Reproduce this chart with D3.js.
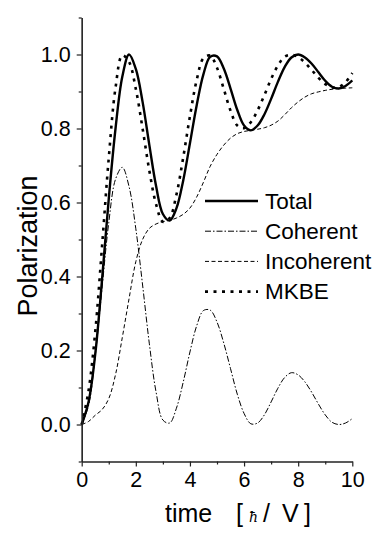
<!DOCTYPE html>
<html>
<head>
<meta charset="utf-8">
<script src="https://cdn.jsdelivr.net/npm/d3@7"></script>
<style>
  body { margin: 0; background: #fff; }
  text { font-family: "Liberation Sans", Arial, sans-serif; fill: #000; }
</style>
</head>
<body>
<div id="vis"></div>
<script>
// time axis (hbar / V), one point every 0.25
const times = d3.range(41).map(i => i * 0.25);

const total = [0, 0.06, 0.19, 0.39, 0.61, 0.80, 0.94, 1.0, 0.961, 0.872, 0.755, 0.644, 0.569, 0.551,
  0.584, 0.659, 0.760, 0.863, 0.947, 0.994, 0.995, 0.962, 0.908, 0.850, 0.808, 0.795,
  0.808, 0.838, 0.880, 0.926, 0.966, 0.992, 1.0, 0.992, 0.975, 0.952, 0.929, 0.913, 0.908, 0.915, 0.93];

const coherent = [0, 0.050, 0.185, 0.367, 0.545, 0.663, 0.695, 0.643, 0.529, 0.377, 0.218, 0.087, 0.012, 0.004,
  0.044, 0.114, 0.196, 0.267, 0.308, 0.309, 0.277, 0.220, 0.151, 0.082, 0.030, 0.002,
  0.004, 0.026, 0.061, 0.098, 0.127, 0.140, 0.134, 0.115, 0.087, 0.055, 0.026, 0.006, 0.0, 0.004, 0.016];

const incoherent = [0, 0.008, 0.025, 0.04, 0.07, 0.135, 0.235, 0.34, 0.44, 0.50, 0.53, 0.542, 0.548, 0.552,
  0.558, 0.568, 0.585, 0.615, 0.655, 0.698, 0.73, 0.755, 0.774, 0.786, 0.792, 0.795,
  0.798, 0.802, 0.809, 0.82, 0.837, 0.856, 0.872, 0.885, 0.894, 0.899, 0.903, 0.906, 0.908, 0.909, 0.91];

const mkbe = [0, 0.09, 0.25, 0.48, 0.72, 0.91, 0.998, 0.98, 0.907, 0.80, 0.686, 0.595, 0.548, 0.558,
  0.621, 0.721, 0.833, 0.931, 0.990, 0.997, 0.964, 0.907, 0.848, 0.808, 0.801, 0.817,
  0.849, 0.890, 0.934, 0.970, 0.994, 0.999, 0.993, 0.978, 0.958, 0.937, 0.920, 0.911, 0.912, 0.925, 0.95];

const seriesNames = ["Total", "Coherent", "Incoherent", "MKBE"];
const xTicks = [0, 2, 4, 6, 8, 10];
const yTicks = [0.0, 0.2, 0.4, 0.6, 0.8, 1.0];

const W = 382, H = 540;
const svg = d3.select("#vis").append("svg")
  .attr("width", W).attr("height", H);

const x = d3.scaleLinear().domain([0, 10]).range([81.7, 352.3]);
const y = d3.scaleLinear().domain([-0.1, 1.1]).range([461.5, 17.5]);

const styles = {
  Total:      { width: 2.4, dash: null },
  Coherent:   { width: 1, dash: "6,2,1.5,2" },
  Incoherent: { width: 1, dash: "4,2.5" },
  MKBE:       { width: 2.6, dash: "3,5.5" }
};
const dataBy = { Total: total, Coherent: coherent, Incoherent: incoherent, MKBE: mkbe };

const line = d3.line()
  .x(d => x(d[0]))
  .y(d => y(d[1]))
  .curve(d3.curveCatmullRom.alpha(0.5));

// curves
seriesNames.forEach(name => {
  svg.append("path")
    .datum(times.map((t, i) => [t, dataBy[name][i]]))
    .attr("fill", "none")
    .attr("stroke", "#000")
    .attr("stroke-width", styles[name].width)
    .attr("stroke-dasharray", styles[name].dash)
    .attr("d", line);
});

// y axis with minor ticks
const yAxis = svg.append("g").attr("transform", `translate(${x(0)},0)`);
yAxis.call(d3.axisLeft(y).tickValues(yTicks).tickSize(5).tickSizeOuter(0)
  .tickFormat(d3.format(".1f")).tickPadding(6));
yAxis.append("g").call(d3.axisLeft(y).tickValues([-0.1, 0.1, 0.3, 0.5, 0.7, 0.9, 1.1])
  .tickSize(3).tickSizeOuter(0).tickFormat(""));

// x axis with minor ticks
const xAxis = svg.append("g").attr("transform", `translate(0,${y(-0.1)})`);
xAxis.call(d3.axisBottom(x).tickValues(xTicks).tickSize(5).tickSizeOuter(0).tickPadding(5));
xAxis.append("g").call(d3.axisBottom(x).tickValues([1, 3, 5, 7, 9])
  .tickSize(3).tickSizeOuter(0).tickFormat(""));

svg.selectAll(".domain, .tick line").attr("stroke", "#222").attr("stroke-width", 1.2);
svg.selectAll(".tick text").attr("font-size", 21.5).attr("font-family", "Liberation Sans, Arial, sans-serif").attr("fill", "#000");

// axis titles
svg.append("text")
  .attr("transform", "translate(37,246) rotate(-90)")
  .attr("text-anchor", "middle")
  .attr("font-size", 27)
  .text("Polarization");

const xt = svg.append("text").attr("y", 522).attr("font-size", 25);
xt.append("tspan").attr("x", 165).text("time");
xt.append("tspan").attr("x", 236).text("[");
xt.append("tspan").attr("x", 249).attr("font-size", 14).attr("font-style", "italic").attr("font-family", "DejaVu Serif, serif").text("ħ");
xt.append("tspan").attr("x", 263).text("/");
xt.append("tspan").attr("x", 282).text("V");
xt.append("tspan").attr("x", 304).text("]");

// legend
const legend = svg.append("g").selectAll("g")
  .data(seriesNames)
  .join("g")
  .attr("transform", (d, i) => `translate(205,${201 + i * 30.2})`);

legend.append("line")
  .attr("x1", 0).attr("x2", 53)
  .attr("stroke", "#000")
  .attr("stroke-width", d => styles[d].width)
  .attr("stroke-dasharray", d => styles[d].dash);

legend.append("text")
  .attr("x", 60)
  .attr("dy", "0.35em")
  .attr("font-size", 22.5)
  .text(d => d);
</script>
</body>
</html>
